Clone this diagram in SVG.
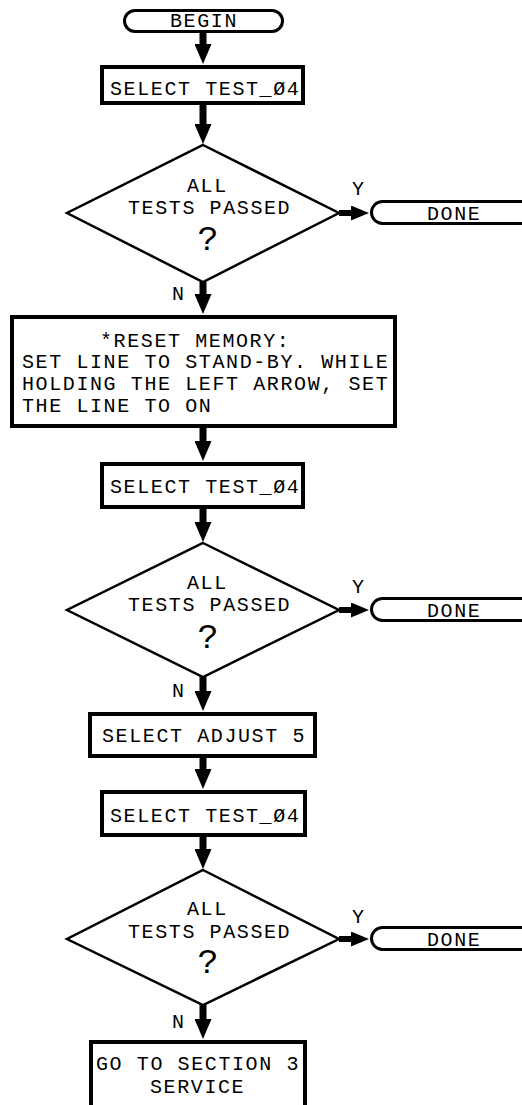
<svg xmlns="http://www.w3.org/2000/svg" width="522" height="1105" viewBox="0 0 522 1105">
<style>
.t{font-family:"Liberation Mono","DejaVu Sans Mono",monospace;font-size:20px;letter-spacing:1.6px;fill:#000}
.q{font-family:"Liberation Mono","DejaVu Sans Mono",monospace;font-size:35px;fill:#000;text-anchor:middle}
.box{fill:#fff;stroke:#000;stroke-width:4}
.dia{fill:#fff;stroke:#000;stroke-width:2.5;stroke-linejoin:miter}
.term{fill:#fff;stroke:#000;stroke-width:3}
.v{stroke:#000;stroke-width:7;fill:none;marker-end:url(#ah)}
.h{stroke:#000;stroke-width:6;fill:none;marker-end:url(#ahh)}
</style>
<defs>
<marker id="ah" markerUnits="userSpaceOnUse" markerWidth="20" markerHeight="17" viewBox="0 0 20 17" refX="1" refY="8.5" orient="auto"><path d="M0,0 L20,8.5 L0,17 z" fill="#000"/></marker>
<marker id="ahh" markerUnits="userSpaceOnUse" markerWidth="18" markerHeight="15" viewBox="0 0 18 15" refX="1" refY="7.5" orient="auto"><path d="M0,0 L18,7.5 L0,15 z" fill="#000"/></marker>
</defs>
<rect width="522" height="1105" fill="#fff"/>
<g id="connectors">
<path class="v" d="M203,33 V45"/>
<path class="v" d="M203,105 V125"/>
<path class="v" d="M203,282 V295"/>
<path class="v" d="M203,428 V442"/>
<path class="v" d="M203,509 V523"/>
<path class="v" d="M203,677 V692"/>
<path class="v" d="M203,758 V770"/>
<path class="v" d="M203,837 V850"/>
<path class="v" d="M203,1005 V1020"/>
<path class="h" d="M339,213 H352"/>
<path class="h" d="M339,610 H352"/>
<path class="h" d="M339,939 H352"/>
<text class="t" x="352" y="195">Y</text>
<text class="t" x="172" y="300">N</text>
<text class="t" x="352" y="593">Y</text>
<text class="t" x="172" y="697">N</text>
<text class="t" x="352" y="923">Y</text>
<text class="t" x="172" y="1028">N</text>
</g>
<g id="begin">
<rect class="term" x="124.5" y="10.5" width="158" height="21" rx="10.5"/>
<text class="t" x="170" y="27">BEGIN</text>
</g>
<g id="select1">
<rect class="box" x="102" y="67" width="201" height="36"/>
<text class="t" x="110" y="95">SELECT TEST_Ø4</text>
</g>
<g id="decision1">
<polygon class="dia" points="203,145 339,213 203,282 67,213"/>
<text class="t" x="187" y="192">ALL</text>
<text class="t" x="128" y="214">TESTS PASSED</text>
<text class="q" x="208" y="250">?</text>
</g>
<g id="done1">
<path class="term" d="M530,201.5 H382.5 A11,11 0 0 0 382.5,223.5 H530"/>
<text class="t" x="427" y="220">DONE</text>
</g>
<g id="reset">
<rect class="box" x="12" y="317" width="383" height="109"/>
<text class="t" x="100" y="347">*RESET MEMORY:</text>
<text class="t" x="22" y="368">SET LINE TO STAND-BY. WHILE</text>
<text class="t" x="22" y="390">HOLDING THE LEFT ARROW, SET</text>
<text class="t" x="22" y="412">THE LINE TO ON</text>
</g>
<g id="select2">
<rect class="box" x="102" y="464" width="201" height="43"/>
<text class="t" x="110" y="493">SELECT TEST_Ø4</text>
</g>
<g id="decision2">
<polygon class="dia" points="203,543 339,610 203,677 67,610"/>
<text class="t" x="187" y="589">ALL</text>
<text class="t" x="128" y="611">TESTS PASSED</text>
<text class="q" x="208" y="648">?</text>
</g>
<g id="done2">
<path class="term" d="M530,598.5 H382.5 A11,11 0 0 0 382.5,620.5 H530"/>
<text class="t" x="427" y="617">DONE</text>
</g>
<g id="adjust">
<rect class="box" x="90" y="714" width="225" height="42"/>
<text class="t" x="102" y="742">SELECT ADJUST 5</text>
</g>
<g id="select3">
<rect class="box" x="102" y="792" width="203" height="43"/>
<text class="t" x="110" y="822">SELECT TEST_Ø4</text>
</g>
<g id="decision3">
<polygon class="dia" points="203,870 339,939 203,1005 67,939"/>
<text class="t" x="187" y="915">ALL</text>
<text class="t" x="128" y="938">TESTS PASSED</text>
<text class="q" x="208" y="973">?</text>
</g>
<g id="done3">
<path class="term" d="M530,927.5 H382.5 A11,11 0 0 0 382.5,949.5 H530"/>
<text class="t" x="427" y="946">DONE</text>
</g>
<g id="service">
<rect class="box" x="91" y="1042" width="214" height="100"/>
<text class="t" x="96" y="1070">GO TO SECTION 3</text>
<text class="t" x="150" y="1093">SERVICE</text>
</g>
</svg>
